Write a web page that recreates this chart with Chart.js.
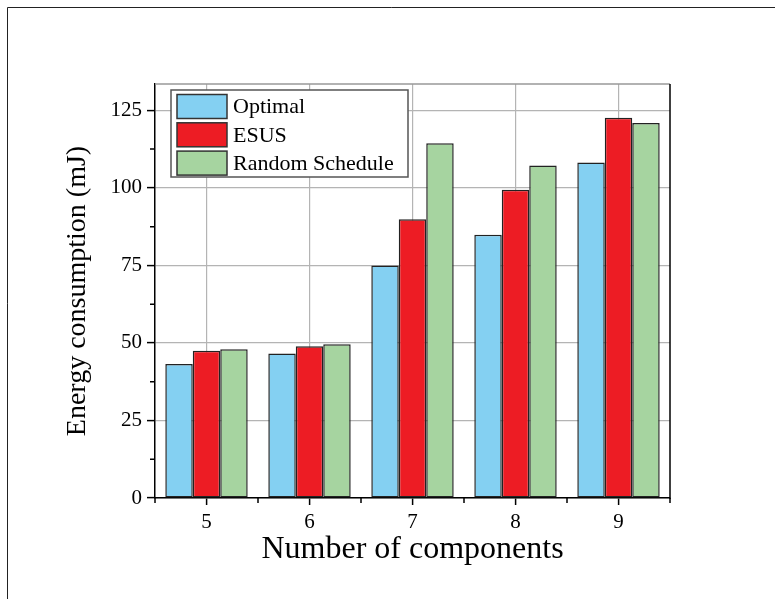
<!DOCTYPE html>
<html>
<head>
<meta charset="utf-8">
<script src="https://cdn.jsdelivr.net/npm/chart.js@4.4.0/dist/chart.umd.min.js"></script>
<style>
  html, body { margin: 0; padding: 0; background: #fff; }
  #wrap { width: 775px; height: 599px; position: relative; }
</style>
</head>
<body>
<div id="wrap"><canvas id="chart" width="775" height="599"></canvas></div>
<script>
const components = ['5', '6', '7', '8', '9'];
const optimal = [43.2, 46.6, 75.0, 84.9, 108.2];
const esus = [47.5, 48.9, 89.9, 99.4, 122.6];
const randomSchedule = [48.0, 49.6, 114.4, 107.2, 120.9];
const seriesNames = ['Optimal', 'ESUS', 'Random Schedule'];
const yMax = 133.5;
const yStep = 25;

const serif = "'Liberation Serif', 'Times New Roman', serif";
const colors = ['#84D0F2', '#ED1C24', '#A6D4A0'];

// frame, minor ticks, plot border and the boxed legend
const extras = {
  id: 'extras',
  beforeDraw(chart) {
    const ctx = chart.ctx;
    ctx.save();
    ctx.fillStyle = '#fff';
    ctx.fillRect(0, 0, chart.width, chart.height);
    ctx.strokeStyle = '#222';
    ctx.lineWidth = 1;
    ctx.beginPath();
    ctx.moveTo(7.5, chart.height);
    ctx.lineTo(7.5, 7.5);
    ctx.lineTo(chart.width, 7.5);
    ctx.stroke();
    ctx.restore();
  },
  afterDraw(chart) {
    const ctx = chart.ctx;
    const area = chart.chartArea;
    const x = chart.scales.x;
    const y = chart.scales.y;
    ctx.save();

    // top border (gray) and right border (black)
    ctx.strokeStyle = '#999';
    ctx.lineWidth = 1.5;
    ctx.beginPath();
    ctx.moveTo(area.left, area.top);
    ctx.lineTo(area.right, area.top);
    ctx.stroke();
    ctx.strokeStyle = '#000';
    ctx.beginPath();
    ctx.moveTo(area.right, area.top);
    ctx.lineTo(area.right, area.bottom + 1);
    ctx.stroke();

    // minor ticks
    ctx.lineWidth = 1.5;
    ctx.beginPath();
    for (let v = yStep / 2; v < yMax; v += yStep) {
      const py = y.getPixelForValue(v);
      ctx.moveTo(area.left - 5, py);
      ctx.lineTo(area.left, py);
    }
    for (let i = 0; i <= components.length; i++) {
      const px = x.getPixelForValue(i - 0.5);
      ctx.moveTo(px, area.bottom);
      ctx.lineTo(px, area.bottom + 5);
    }
    ctx.stroke();

    // legend
    const lx = area.left + 16, ly = area.top + 6;
    const lw = 237, lh = 87;
    ctx.fillStyle = '#fff';
    ctx.fillRect(lx, ly, lw, lh);
    ctx.strokeStyle = '#555';
    ctx.lineWidth = 1.5;
    ctx.strokeRect(lx, ly, lw, lh);
    ctx.font = '22px ' + serif;
    ctx.textBaseline = 'middle';
    ctx.textAlign = 'left';
    chart.data.datasets.forEach((ds, i) => {
      const sy = ly + 4.5 + i * 28.3;
      ctx.fillStyle = ds.backgroundColor;
      ctx.fillRect(lx + 6, sy, 50, 24);
      ctx.strokeStyle = '#333';
      ctx.lineWidth = 1.5;
      ctx.strokeRect(lx + 6, sy, 50, 24);
      ctx.fillStyle = '#000';
      ctx.fillText(ds.label, lx + 62, sy + 13);
    });
    ctx.restore();
  }
};

new Chart(document.getElementById('chart'), {
  type: 'bar',
  data: {
    labels: components,
    datasets: [optimal, esus, randomSchedule].map((vals, i) => ({
      label: seriesNames[i],
      data: vals,
      backgroundColor: colors[i],
      borderColor: '#222',
      borderWidth: 1.5,
      borderSkipped: false,
      categoryPercentage: 0.8,
      barPercentage: 1.0
    }))
  },
  options: {
    responsive: false,
    animation: false,
    layout: { padding: { top: 84, right: 105, left: 0, bottom: 0 } },
    plugins: {
      legend: { display: false },
      tooltip: { enabled: false }
    },
    scales: {
      x: {
        afterFit(scale) { scale.height = 101; },
        grid: {
          offset: false,
          color: '#b4b4b4',
          lineWidth: 1.2,
          tickColor: '#000',
          tickWidth: 1.5,
          tickLength: 7
        },
        border: { display: true, color: '#000', width: 1.5 },
        ticks: { color: '#000', font: { family: serif, size: 21 }, padding: 5 },
        title: {
          display: true,
          text: 'Number of components',
          color: '#000',
          font: { family: serif, size: 32 },
          padding: { top: 0, bottom: 30 }
        }
      },
      y: {
        min: 0,
        max: yMax,
        afterFit(scale) { scale.width = 155; },
        grid: {
          color: '#b4b4b4',
          lineWidth: 1.2,
          tickColor: '#000',
          tickWidth: 1.5,
          tickLength: 8
        },
        border: { display: true, color: '#000', width: 1.5 },
        ticks: {
          stepSize: yStep,
          includeBounds: false,
          color: '#000',
          font: { family: serif, size: 21 },
          padding: 5
        },
        title: {
          display: true,
          text: 'Energy consumption (mJ)',
          color: '#000',
          font: { family: serif, size: 28 },
          padding: { top: 61, bottom: 0 }
        }
      }
    }
  },
  plugins: [extras]
});
</script>
</body>
</html>
